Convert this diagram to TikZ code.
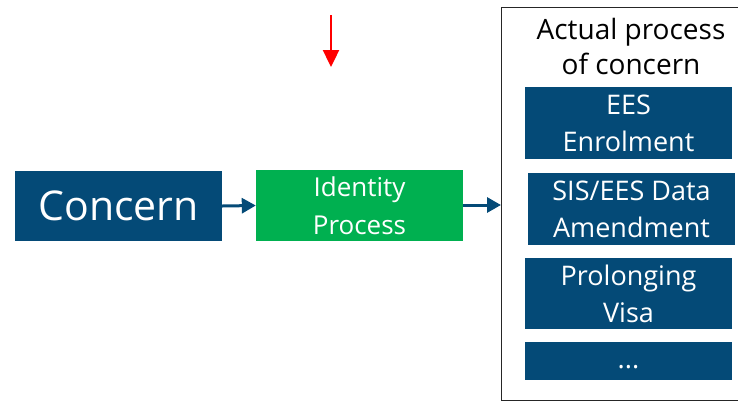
\documentclass[tikz,border=0pt]{standalone}
\usepackage{fontspec}
\setmainfont{Open Sans}
\usetikzlibrary{arrows.meta,positioning}
\definecolor{procblue}{RGB}{4,74,119}
\definecolor{procgreen}{RGB}{0,176,80}
\tikzset{
    procbox/.style={fill=procblue, text=white, minimum width=207pt, minimum height=71pt, inner sep=0pt, align=center, font=\fontsize{27}{37}\selectfont},
    flow/.style={procblue, line width=3pt, -{Triangle[length=14pt,width=15pt]}},
}
\begin{document}
\begin{tikzpicture}[x=1pt,y=-1pt]
    \clip (0,0) rectangle (738,402);
    \useasboundingbox (0,0) rectangle (738,402);
    % left part
    \node[procbox, minimum height=70pt, font=\fontsize{41}{48}\selectfont] (concern) at (118.5,206) {Concern};
    \node[procbox, fill=procgreen, font=\fontsize{26}{38}\selectfont] (identity) at (359.5,205.5) {Identity\\Process};
    % container on the right
    \node[draw=black!85, line width=1.3pt, minimum width=250pt, minimum height=393pt, anchor=north west] (actual) at (501,7) {};
    \node[font=\fontsize{28}{35}\selectfont, align=center, anchor=north] (title) at (631,15) {Actual process\\of concern};
    \node[procbox, minimum height=72pt] (ees) at (628.5,123) {EES\\Enrolment};
    \node[procbox, minimum height=72pt] (sis) at (631.5,209) {SIS/EES Data\\Amendment};
    \node[procbox] (visa) at (628.5,293.5) {Prolonging\\Visa};
    \node[procbox, minimum height=38pt] (more) at (628.5,361) {\raisebox{-7pt}[0pt][0pt]{...}};
    % connectors
    \draw[flow] (concern.east) -- (identity.west);
    \draw[flow] (identity.east |- 0,205) -- (actual.west |- 0,205);
    % red marker
    \coordinate (marktop) at (331,15);
    \coordinate (markend) at (331,67);
    \draw[red, line width=2.4pt, -{Triangle[length=17pt,width=16pt]}] (marktop) -- (markend);
\end{tikzpicture}
\end{document}
